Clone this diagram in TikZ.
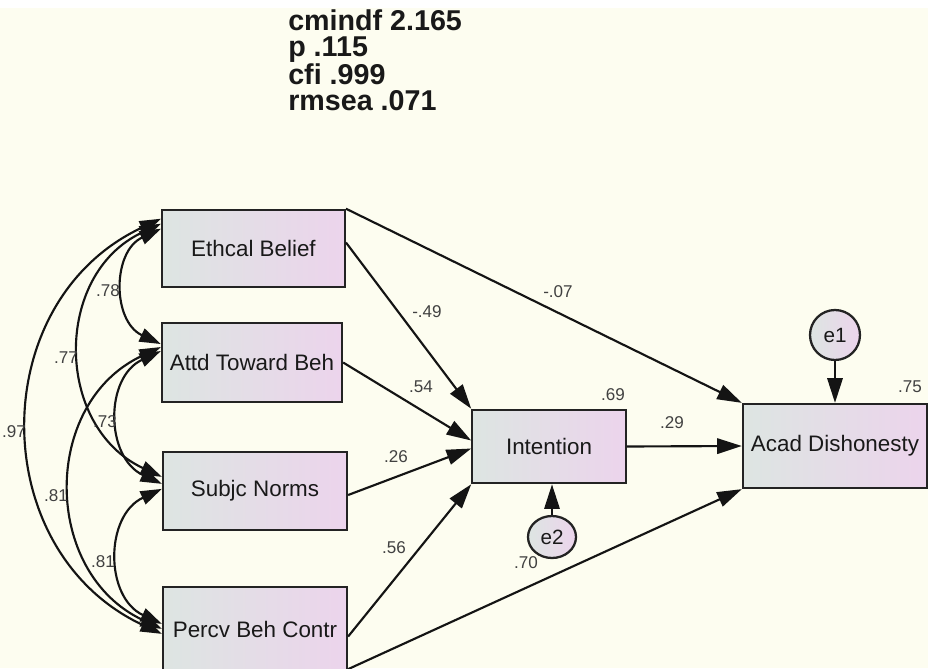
\documentclass[tikz,border=0pt]{standalone}
\usepackage{fontspec}
\setmainfont{Liberation Sans}
\usetikzlibrary{arrows.meta,shapes.geometric,calc}
\definecolor{bgcream}{RGB}{253,253,240}
\definecolor{boxl}{RGB}{221,229,226}
\definecolor{boxr}{RGB}{236,212,236}
\definecolor{edgegray}{RGB}{35,35,35}
\definecolor{lblgray}{RGB}{65,65,65}

\begin{document}
\begin{tikzpicture}[x=0.75pt,y=0.75pt]
\tikzstyle{every node}+=[inner sep=0pt]
\tikzstyle{var}=[draw=edgegray,line width=1.7pt,left color=boxl,right color=boxr,text=black!90,font=\fontsize{16.8}{19}\selectfont]
\tikzstyle{err}=[var,ellipse,font=\fontsize{15.5}{18}\selectfont]
\tikzstyle{reg}=[line width=1.6pt,draw=black!92,-{Triangle[length=18.5pt,width=11.5pt]}]
\tikzstyle{cov}=[line width=1.6pt,draw=black!92,{Triangle[length=16pt,width=10.5pt]}-{Triangle[length=16pt,width=10.5pt]},out=205,in=155,looseness=1.2]
\tikzstyle{est}=[text=lblgray,font=\fontsize{12.8}{15}\selectfont]
\useasboundingbox (0,0) rectangle (928,-668);
\fill[bgcream] (0,0) rectangle (928,-668);
\fill[white] (0,0) rectangle (928,-8);
\node[anchor=north west,align=left,text=black!90,font=\bfseries\fontsize{21.5}{19.6}\selectfont] (fit) at (288,-9) {cmindf 2.165\\p .115\\cfi .999\\rmsea .071};
\node[var,minimum width=137pt,minimum height=58pt] (eb) at (253.5,-248.5) {Ethcal Belief};
\node[var,minimum width=135pt,minimum height=59pt] (atb) at (252,-362.5) {Attd Toward Beh};
\node[var,minimum width=138pt,minimum height=58.5pt] (sn) at (255,-491) {Subjc Norms};
\node[var,minimum width=138pt,minimum height=63.75pt] (pbc) at (255,-629.5) {Percv Beh Contr};
\node[var,minimum width=115pt,minimum height=55pt] (int) at (549,-446.5) {Intention};
\node[var,minimum width=138pt,minimum height=63pt] (ad) at (835,-446) {Acad Dishonesty};
\node[err,minimum width=37.5pt,minimum height=37.5pt] (e1) at (835,-335) {e1};
\node[err,minimum width=36pt,minimum height=31.5pt] (e2) at (552,-537) {e2};
\draw[cov] ($(eb.north west)+(0,-20)$) to ($(atb.north west)+(0,-22)$);
\draw[cov] ($(eb.north west)+(0,-15)$) to ($(sn.north west)+(0,-26)$);
\draw[cov] ($(eb.north west)+(0,-10)$) to ($(pbc.north west)+(0,-48)$);
\draw[cov] ($(atb.north west)+(0,-29)$) to ($(sn.north west)+(0,-33)$);
\draw[cov] ($(atb.north west)+(0,-25)$) to ($(pbc.north west)+(0,-43)$);
\draw[cov] ($(sn.north west)+(0,-38)$) to ($(pbc.north west)+(0,-38)$);
\draw[reg] ($(eb.east)+(0,6)$) -- (int.north west);
\draw[reg] (eb.north east) -- (ad.north west);
\draw[reg] (atb.east) -- ($(int.west)+(0,6)$);
\draw[reg] ($(sn.east)+(0,-4)$) -- ($(int.west)+(0,-2)$);
\draw[reg] ($(pbc.east)+(0,-7)$) -- (int.south west);
\draw[reg] ($(pbc.south east)+(0,4)$) -- (ad.south west);
\draw[reg] (int.east) -- (ad.west);
\draw[reg] (e1) -- (ad.north);
\draw[reg] (e2) -- (e2 |- int.south);
\node[est] (r78) at (108,-291) {.78};
\node[est] (r77) at (66,-358) {.77};
\node[est] (r97) at (14,-432) {.97};
\node[est] (r73) at (105,-422) {.73};
\node[est] (r81a) at (56,-496) {.81};
\node[est] (r81b) at (103,-562) {.81};
\node[est] (b49) at (427,-312) {-.49};
\node[est] (b07) at (558,-292) {-.07};
\node[est] (b54) at (421,-387) {.54};
\node[est] (b26) at (396,-457) {.26};
\node[est] (b56) at (394,-548) {.56};
\node[est] (b70) at (526,-563) {.70};
\node[est] (b29) at (672,-423) {.29};
\node[est] (sq69) at (613,-395) {.69};
\node[est] (sq75) at (910,-387) {.75};
\end{tikzpicture}
\end{document}
